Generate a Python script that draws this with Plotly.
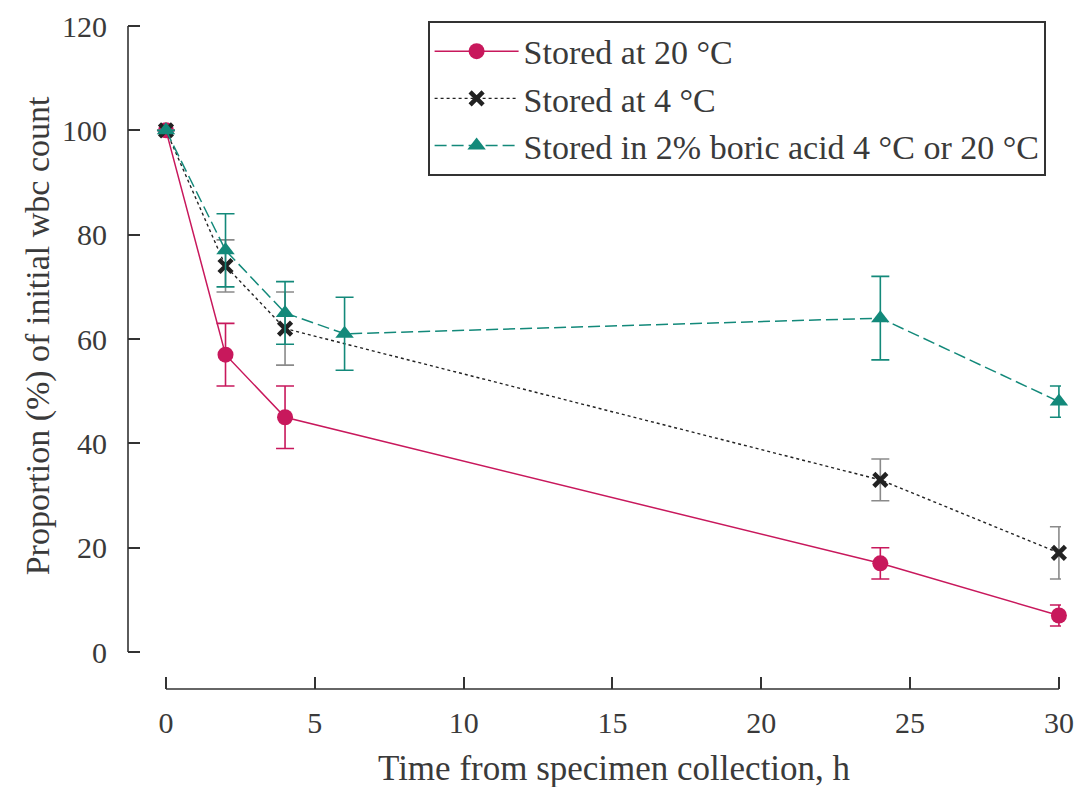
import plotly.graph_objects as go

# Data
x_20 = [0, 2, 4, 24, 30]
y_20 = [100, 57, 45, 17, 7]
e_20 = [0, 6, 6, 3, 2]

x_4 = [0, 2, 4, 24, 30]
y_4 = [100, 74, 62, 33, 19]
e_4 = [0, 5, 7, 4, 5]

x_b = [0, 2, 4, 6, 24, 30]
y_b = [100, 77, 65, 61, 64, 48]
e_b = [0, 7, 6, 7, 8, 3]

names = ["Stored at 20 °C", "Stored at 4 °C", "Stored in 2% boric acid 4 °C or 20 °C"]
x_ticks = [0, 5, 10, 15, 20, 25, 30]
y_ticks = [0, 20, 40, 60, 80, 100, 120]
x_title = "Time from specimen collection, h"
y_title = "Proportion (%) of initial wbc count"

CRIMSON = "#c8185c"
TEAL = "#13897a"
BLACK = "#222222"
GRAY = "#8a8a8a"
TXT = "#3a3a3a"
AX = "#333333"
FONT = "Liberation Serif"

fig = go.Figure()

fig.add_trace(go.Scatter(
    x=x_20, y=y_20, name=names[0], mode="lines+markers",
    line=dict(color=CRIMSON, width=1.5),
    marker=dict(symbol="circle", size=16, color=CRIMSON),
    error_y=dict(type="data", array=e_20, color=CRIMSON, thickness=1.6, width=9),
    cliponaxis=False,
))
fig.add_trace(go.Scatter(
    x=x_4, y=y_4, name=names[1], mode="lines+markers",
    line=dict(color=BLACK, width=1.4, dash="dot"),
    marker=dict(symbol="x-thin", size=13, color=BLACK, line=dict(width=4.5, color=BLACK)),
    error_y=dict(type="data", array=e_4, color=GRAY, thickness=1.6, width=9),
    cliponaxis=False,
))
fig.add_trace(go.Scatter(
    x=x_b, y=y_b, name=names[2], mode="lines+markers",
    line=dict(color=TEAL, width=1.5, dash="12px,5px"),
    marker=dict(symbol="triangle-up", size=16, color=TEAL),
    error_y=dict(type="data", array=e_b, color=TEAL, thickness=1.6, width=9),
    cliponaxis=False,
))

# detached axis lines
fig.add_shape(type="line", xref="paper", yref="y", x0=0, x1=0, y0=0, y1=120,
              line=dict(color=AX, width=1.6))
fig.add_shape(type="line", xref="x", yref="paper", x0=0, x1=30, y0=0, y1=0,
              line=dict(color=AX, width=1.6))

# axis titles
fig.add_annotation(text=x_title, xref="paper", yref="paper", x=0.521, y=0,
                   yshift=-79, xanchor="center", yanchor="middle", showarrow=False,
                   font=dict(family=FONT, size=35, color=TXT))
fig.add_annotation(text=y_title, xref="paper", yref="paper", x=0, y=0.528,
                   xshift=-90, xanchor="center", yanchor="middle", showarrow=False,
                   textangle=-90, font=dict(family=FONT, size=34, color=TXT))

fig.update_layout(
    width=1074, height=779,
    margin=dict(l=120, r=21, t=13, b=98, autoexpand=False),
    paper_bgcolor="white", plot_bgcolor="white",
    font=dict(family=FONT, size=30, color=TXT),
    showlegend=True,
    legend=dict(
        x=0.0, y=1.0, xanchor="left", yanchor="top",
        xref="paper",
        bgcolor="white", bordercolor=AX, borderwidth=1.6,
        font=dict(family=FONT, size=34, color=TXT),
        tracegroupgap=0, itemwidth=84,
    ),
    xaxis=dict(
        range=[-1.276, 30.07], tickvals=x_ticks, ticktext=[str(v) for v in x_ticks],
        ticks="inside", ticklen=12, tickwidth=1.6, tickcolor=AX,
        showgrid=False, zeroline=False, showline=False, automargin=False,
        tickfont=dict(size=30, family=FONT, color=TXT),
        ticklabelstandoff=13,
    ),
    yaxis=dict(
        range=[-7.09, 120.96], tickvals=y_ticks, ticktext=[str(v) for v in y_ticks],
        ticks="inside", ticklen=12, tickwidth=1.6, tickcolor=AX,
        showgrid=False, zeroline=False, showline=False, automargin=False,
        tickfont=dict(size=30, family=FONT, color=TXT),
        ticklabelstandoff=20,
    ),
)
# legend left edge at screen x=428 -> fig x=420 -> paper fraction
fig.update_layout(legend_x=(420 - 120) / 933)

fig.write_html("out.html")
